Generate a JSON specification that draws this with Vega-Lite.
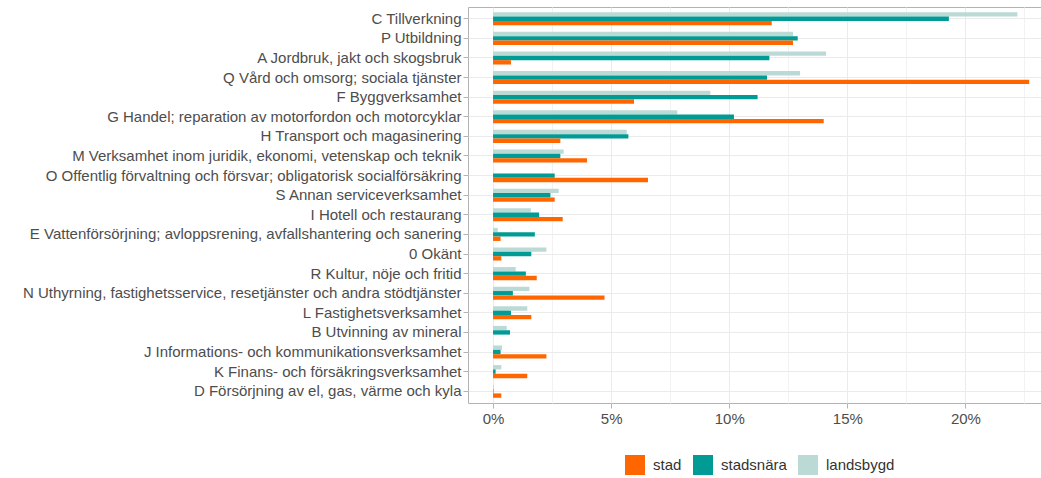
{
  "$schema": "https://vega.github.io/schema/vega-lite/v6.json",
  "width": 573,
  "height": 396,
  "autosize": {"type": "none"},
  "padding": {"left": 468, "top": 7, "right": 0, "bottom": 75},
  "background": "white",
  "config": {
    "view": {"stroke": "#B3B3B3", "strokeWidth": 1},
    "font": "Liberation Sans"
  },
  "data": {
    "values": [
      {"naring": "C Tillverkning", "typ": "landsbygd", "andel": 22.2},
      {"naring": "C Tillverkning", "typ": "stadsnära", "andel": 19.3},
      {"naring": "C Tillverkning", "typ": "stad", "andel": 11.8},
      {"naring": "P Utbildning", "typ": "landsbygd", "andel": 12.7},
      {"naring": "P Utbildning", "typ": "stadsnära", "andel": 12.9},
      {"naring": "P Utbildning", "typ": "stad", "andel": 12.7},
      {"naring": "A Jordbruk, jakt och skogsbruk", "typ": "landsbygd", "andel": 14.1},
      {"naring": "A Jordbruk, jakt och skogsbruk", "typ": "stadsnära", "andel": 11.7},
      {"naring": "A Jordbruk, jakt och skogsbruk", "typ": "stad", "andel": 0.76},
      {"naring": "Q Vård och omsorg; sociala tjänster", "typ": "landsbygd", "andel": 13.0},
      {"naring": "Q Vård och omsorg; sociala tjänster", "typ": "stadsnära", "andel": 11.6},
      {"naring": "Q Vård och omsorg; sociala tjänster", "typ": "stad", "andel": 22.7},
      {"naring": "F Byggverksamhet", "typ": "landsbygd", "andel": 9.2},
      {"naring": "F Byggverksamhet", "typ": "stadsnära", "andel": 11.2},
      {"naring": "F Byggverksamhet", "typ": "stad", "andel": 5.97},
      {"naring": "G Handel; reparation av motorfordon och motorcyklar", "typ": "landsbygd", "andel": 7.8},
      {"naring": "G Handel; reparation av motorfordon och motorcyklar", "typ": "stadsnära", "andel": 10.2},
      {"naring": "G Handel; reparation av motorfordon och motorcyklar", "typ": "stad", "andel": 14.0},
      {"naring": "H Transport och magasinering", "typ": "landsbygd", "andel": 5.66},
      {"naring": "H Transport och magasinering", "typ": "stadsnära", "andel": 5.73},
      {"naring": "H Transport och magasinering", "typ": "stad", "andel": 2.85},
      {"naring": "M Verksamhet inom juridik, ekonomi, vetenskap och teknik", "typ": "landsbygd", "andel": 2.99},
      {"naring": "M Verksamhet inom juridik, ekonomi, vetenskap och teknik", "typ": "stadsnära", "andel": 2.85},
      {"naring": "M Verksamhet inom juridik, ekonomi, vetenskap och teknik", "typ": "stad", "andel": 3.98},
      {"naring": "O Offentlig förvaltning och försvar; obligatorisk socialförsäkring", "typ": "landsbygd", "andel": 0},
      {"naring": "O Offentlig förvaltning och försvar; obligatorisk socialförsäkring", "typ": "stadsnära", "andel": 2.61},
      {"naring": "O Offentlig förvaltning och försvar; obligatorisk socialförsäkring", "typ": "stad", "andel": 6.56},
      {"naring": "S Annan serviceverksamhet", "typ": "landsbygd", "andel": 2.78},
      {"naring": "S Annan serviceverksamhet", "typ": "stadsnära", "andel": 2.43},
      {"naring": "S Annan serviceverksamhet", "typ": "stad", "andel": 2.61},
      {"naring": "I Hotell och restaurang", "typ": "landsbygd", "andel": 1.6},
      {"naring": "I Hotell och restaurang", "typ": "stadsnära", "andel": 1.95},
      {"naring": "I Hotell och restaurang", "typ": "stad", "andel": 2.95},
      {"naring": "E Vattenförsörjning; avloppsrening, avfallshantering och sanering", "typ": "landsbygd", "andel": 0.2},
      {"naring": "E Vattenförsörjning; avloppsrening, avfallshantering och sanering", "typ": "stadsnära", "andel": 1.77},
      {"naring": "E Vattenförsörjning; avloppsrening, avfallshantering och sanering", "typ": "stad", "andel": 0.32},
      {"naring": "0 Okänt", "typ": "landsbygd", "andel": 2.26},
      {"naring": "0 Okänt", "typ": "stadsnära", "andel": 1.62},
      {"naring": "0 Okänt", "typ": "stad", "andel": 0.35},
      {"naring": "R Kultur, nöje och fritid", "typ": "landsbygd", "andel": 0.96},
      {"naring": "R Kultur, nöje och fritid", "typ": "stadsnära", "andel": 1.39},
      {"naring": "R Kultur, nöje och fritid", "typ": "stad", "andel": 1.85},
      {"naring": "N Uthyrning, fastighetsservice, resetjänster och andra stödtjänster", "typ": "landsbygd", "andel": 1.54},
      {"naring": "N Uthyrning, fastighetsservice, resetjänster och andra stödtjänster", "typ": "stadsnära", "andel": 0.84},
      {"naring": "N Uthyrning, fastighetsservice, resetjänster och andra stödtjänster", "typ": "stad", "andel": 4.72},
      {"naring": "L Fastighetsverksamhet", "typ": "landsbygd", "andel": 1.45},
      {"naring": "L Fastighetsverksamhet", "typ": "stadsnära", "andel": 0.76},
      {"naring": "L Fastighetsverksamhet", "typ": "stad", "andel": 1.62},
      {"naring": "B Utvinning av mineral", "typ": "landsbygd", "andel": 0.58},
      {"naring": "B Utvinning av mineral", "typ": "stadsnära", "andel": 0.72},
      {"naring": "B Utvinning av mineral", "typ": "stad", "andel": 0},
      {"naring": "J Informations- och kommunikationsverksamhet", "typ": "landsbygd", "andel": 0.38},
      {"naring": "J Informations- och kommunikationsverksamhet", "typ": "stadsnära", "andel": 0.32},
      {"naring": "J Informations- och kommunikationsverksamhet", "typ": "stad", "andel": 2.26},
      {"naring": "K Finans- och försäkringsverksamhet", "typ": "landsbygd", "andel": 0.35},
      {"naring": "K Finans- och försäkringsverksamhet", "typ": "stadsnära", "andel": 0.11},
      {"naring": "K Finans- och försäkringsverksamhet", "typ": "stad", "andel": 1.45},
      {"naring": "D Försörjning av el, gas, värme och kyla", "typ": "landsbygd", "andel": 0.03},
      {"naring": "D Försörjning av el, gas, värme och kyla", "typ": "stadsnära", "andel": 0.02},
      {"naring": "D Försörjning av el, gas, värme och kyla", "typ": "stad", "andel": 0.35}
    ]
  },
  "mark": {"type": "bar"},
  "encoding": {
    "y": {
      "field": "naring",
      "type": "nominal",
      "sort": [
        "C Tillverkning",
        "P Utbildning",
        "A Jordbruk, jakt och skogsbruk",
        "Q Vård och omsorg; sociala tjänster",
        "F Byggverksamhet",
        "G Handel; reparation av motorfordon och motorcyklar",
        "H Transport och magasinering",
        "M Verksamhet inom juridik, ekonomi, vetenskap och teknik",
        "O Offentlig förvaltning och försvar; obligatorisk socialförsäkring",
        "S Annan serviceverksamhet",
        "I Hotell och restaurang",
        "E Vattenförsörjning; avloppsrening, avfallshantering och sanering",
        "0 Okänt",
        "R Kultur, nöje och fritid",
        "N Uthyrning, fastighetsservice, resetjänster och andra stödtjänster",
        "L Fastighetsverksamhet",
        "B Utvinning av mineral",
        "J Informations- och kommunikationsverksamhet",
        "K Finans- och försäkringsverksamhet",
        "D Försörjning av el, gas, värme och kyla"
      ],
      "scale": {"paddingInner": 0, "paddingOuter": 0.1},
      "axis": {
        "title": null,
        "labelFontSize": 15,
        "labelColor": "#4D4D4D",
        "tickColor": "#B3B3B3",
        "tickSize": 5,
        "domain": false,
        "grid": true,
        "gridColor": "#EBEBEB",
        "bandPosition": 0.5,
        "labelPadding": 2,
        "labelLimit": 600
      }
    },
    "yOffset": {
      "field": "typ",
      "type": "nominal",
      "sort": ["landsbygd", "stadsnära", "stad"],
      "scale": {"paddingInner": 0, "paddingOuter": 0.75}
    },
    "x": {
      "field": "andel",
      "type": "quantitative",
      "scale": {"domain": [-1.06, 23.2], "nice": false, "zero": false},
      "axis": {
        "title": null,
        "values": [0, 2.5, 5, 7.5, 10, 12.5, 15, 17.5, 20, 22.5],
        "labelExpr": "datum.value % 5 === 0 ? datum.value + '%' : ''",
        "labelFontSize": 15,
        "labelColor": "#4D4D4D",
        "labelPadding": 3,
        "tickSize": 5,
        "tickColor": {"condition": {"test": "datum.value % 5 !== 0", "value": "transparent"}, "value": "#B3B3B3"},
        "domain": false,
        "grid": true,
        "gridColor": {"condition": {"test": "datum.value % 5 !== 0", "value": "#F2F2F2"}, "value": "#EBEBEB"}
      }
    },
    "color": {
      "field": "typ",
      "type": "nominal",
      "scale": {
        "domain": ["stad", "stadsnära", "landsbygd"],
        "range": ["#FF6600", "#009B95", "#BBDAD5"]
      },
      "legend": {
        "title": null,
        "orient": "none",
        "direction": "horizontal",
        "legendX": 157,
        "legendY": 448,
        "symbolType": "square",
        "symbolSize": 400,
        "symbolStrokeWidth": 0,
        "symbolOpacity": 1,
        "labelFontSize": 15,
        "labelColor": "#333333",
        "labelOffset": 8,
        "columnPadding": 11
      }
    }
  }
}
